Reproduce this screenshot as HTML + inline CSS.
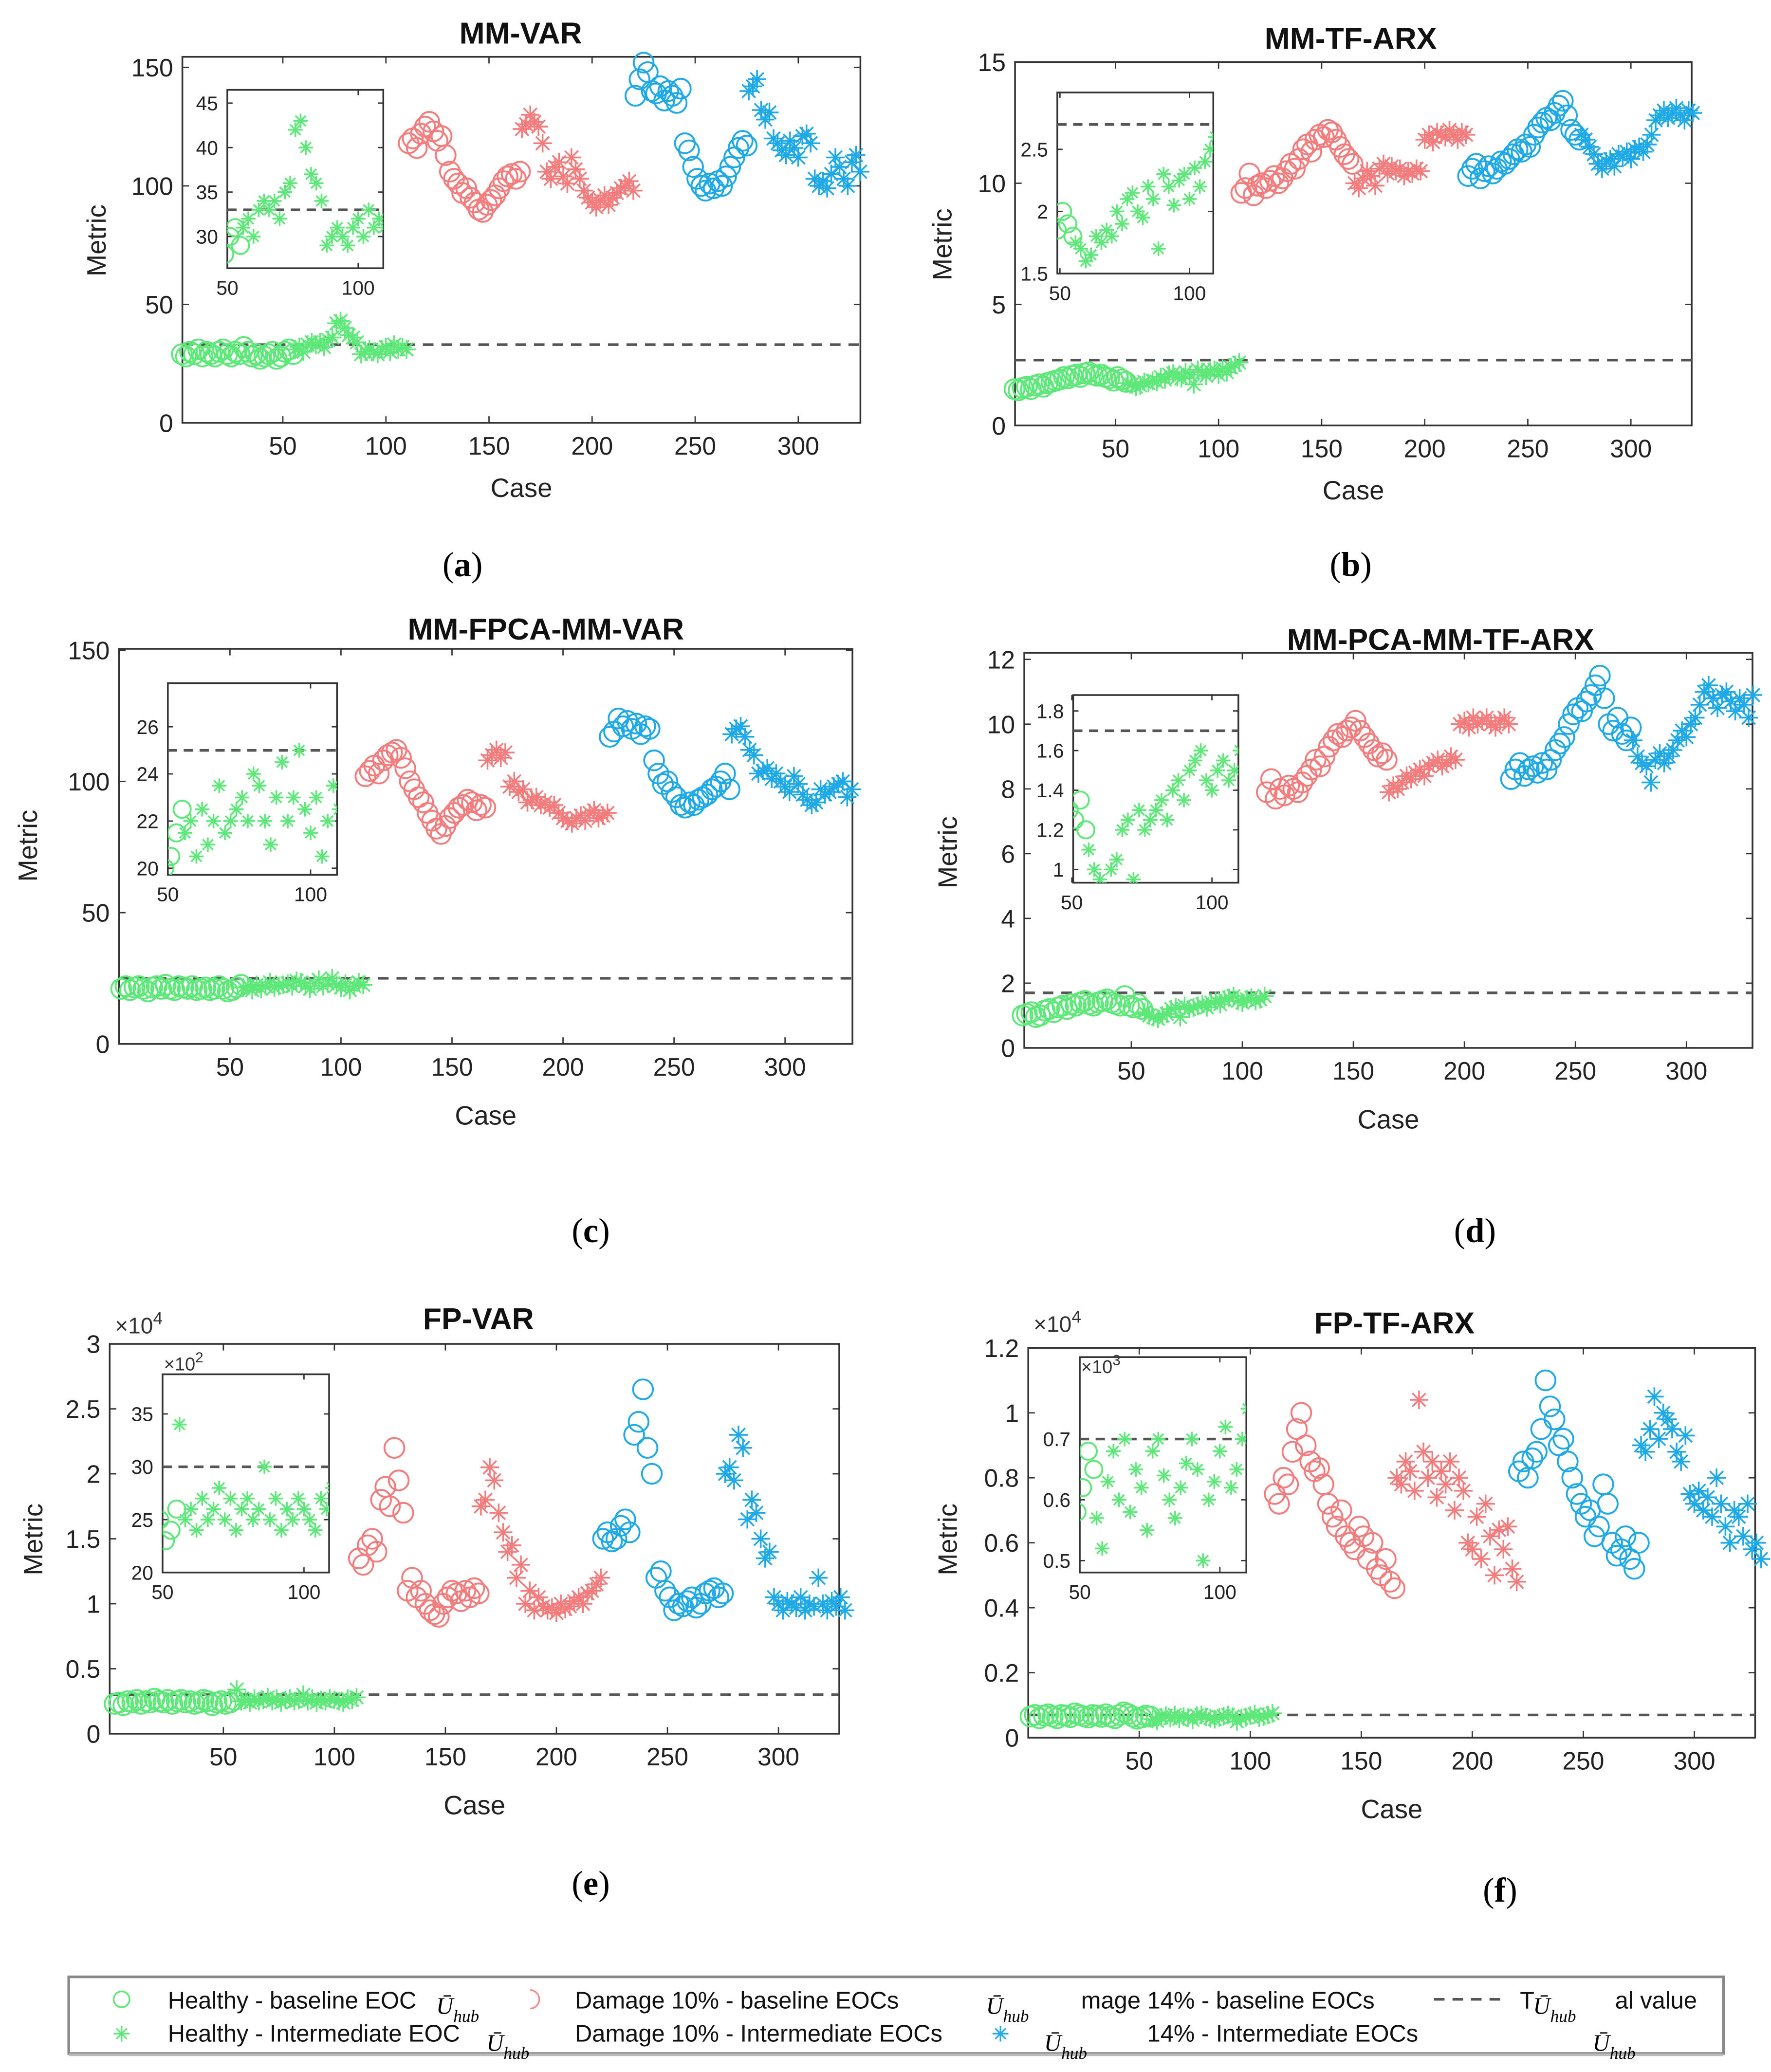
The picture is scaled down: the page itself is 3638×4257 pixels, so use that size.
<!DOCTYPE html>
<html><head><meta charset="utf-8"><style>
html,body{margin:0;padding:0;background:#fff;}
svg{display:block;font-family:"Liberation Sans",Arial,sans-serif;}
</style></head><body>
<svg id="fig" width="3638" height="4257" viewBox="0 0 1340 1568" preserveAspectRatio="none" xmlns="http://www.w3.org/2000/svg">
<rect width="1340" height="1568" fill="#fff"/>
<defs id="defs"></defs>
<g id="root"></g>
<g>
 <rect x="52" y="1496" width="1252" height="58" fill="#fff" stroke="#888" stroke-width="2"/>
 <line x1="52" y1="1555" x2="1304" y2="1555" stroke="#bbb" stroke-width="2"/>
 <circle cx="92" cy="1513" r="6" fill="none" stroke="#5ee87a" stroke-width="1.3"/>
 <text x="127" y="1520" font-size="18" fill="#111">Healthy - baseline  EOC</text>
 <text x="330" y="1524" font-size="18" font-style="italic" font-family="Liberation Serif, serif">Ū<tspan font-size="13" dy="6">hub</tspan></text>
 <g stroke="#5ee87a" stroke-width="1.2"><line x1="86" y1="1539" x2="98" y2="1539"/><line x1="92" y1="1533" x2="92" y2="1545"/><line x1="88" y1="1535" x2="96" y2="1543"/><line x1="96" y1="1535" x2="88" y2="1543"/></g>
 <text x="127" y="1545" font-size="18" fill="#111">Healthy - Intermediate  EOC</text>
 <text x="368" y="1552" font-size="18" font-style="italic" font-family="Liberation Serif, serif">Ū<tspan font-size="13" dy="6">hub</tspan></text>
 <path d="M401 1506 A7 7 0 0 1 401 1520" fill="none" stroke="#f59090" stroke-width="1.3"/>
 <text x="435" y="1520" font-size="18" fill="#111">Damage 10% - baseline  EOCs</text>
 <text x="746" y="1524" font-size="18" font-style="italic" font-family="Liberation Serif, serif">Ū<tspan font-size="13" dy="6">hub</tspan></text>
 <text x="435" y="1545" font-size="18" fill="#111">Damage 10% - Intermediate  EOCs</text>
 <g stroke="#22aaee" stroke-width="1.2"><line x1="751" y1="1539" x2="763" y2="1539"/><line x1="757" y1="1533" x2="757" y2="1545"/><line x1="753" y1="1535" x2="761" y2="1543"/><line x1="761" y1="1535" x2="753" y2="1543"/></g>
 <text x="790" y="1552" font-size="18" font-style="italic" font-family="Liberation Serif, serif">Ū<tspan font-size="13" dy="6">hub</tspan></text>
 <text x="818" y="1520" font-size="18" fill="#111">mage 14% - baseline  EOCs</text>
 <text x="868" y="1545" font-size="18" fill="#111">14% - Intermediate  EOCs</text>
 <line x1="1085" y1="1513" x2="1140" y2="1513" stroke="#555" stroke-width="2" stroke-dasharray="8,6"/>
 <text x="1150" y="1520" font-size="18" fill="#111">T</text>
 <text x="1160" y="1524" font-size="18" font-style="italic" font-family="Liberation Serif, serif">Ū<tspan font-size="13" dy="6">hub</tspan></text>
 <text x="1222" y="1520" font-size="18" fill="#111">al value</text>
 <text x="1205" y="1552" font-size="18" font-style="italic" font-family="Liberation Serif, serif">Ū<tspan font-size="13" dy="6">hub</tspan></text>
</g>
</svg>
<script>
// ---- data ----
const seriesNames = ["healthy-baseline","healthy-intermediate","damage10-baseline","damage10-intermediate","damage14-baseline","damage14-intermediate"];
const caseStart = [1,56,111,166,221,276];
const caseStep = 2;
const xTicks = [50,100,150,200,250,300];
const thresholds = [33, 2.7, 25, 1.7, 0.3, 0.07];

const aHB=[29,28,30,29,31,28,30,29,28,30,31,29,28,30,29,32,30,28,29,27,28,29,30,27,28,30,31,29];
const aHI=[31,32,30,33,34,33,34,32,35,36,42,43,40,37,36,34,29,30,31,30,29,31,32,30,33,31,32,31];
const aD10B=[118,120,116,122,125,127,123,119,121,113,106,103,101,97,99,95,93,90,89,92,94,96,99,102,104,105,103,106];
const aD10I=[124,126,130,127,125,118,106,103,108,110,104,101,112,107,103,98,95,93,91,94,96,92,95,97,99,100,102,98];
const aD14B=[138,145,152,148,140,139,142,136,140,138,135,141,118,115,108,103,100,98,101,99,102,100,104,108,112,116,119,117];
const aD14I=[140,142,145,132,128,131,120,118,115,113,119,116,112,121,122,118,103,100,102,99,105,112,108,103,100,110,113,106];

const bHB=[1.5,1.45,1.55,1.6,1.5,1.65,1.7,1.6,1.75,1.8,1.85,1.9,2.0,1.95,2.05,2.1,2.0,2.15,2.2,2.1,2.05,2.1,2.0,1.95,1.85,2.0,1.9,1.8];
const bHI=[1.75,1.7,1.6,1.65,1.8,1.75,1.85,1.8,2.0,1.9,2.1,2.15,2.0,1.95,2.2,2.1,1.7,2.3,2.2,2.05,2.25,2.3,2.1,2.35,2.2,2.4,2.5,2.6];
const bD10B=[9.6,9.8,10.4,9.5,9.9,10.0,9.8,10.1,10.3,10.0,10.2,10.5,10.8,10.6,11.0,11.4,11.6,11.3,11.8,12.0,11.9,12.2,12.1,11.8,11.5,11.2,11.0,10.8];
const bD10I=[10.0,9.8,10.2,10.5,10.3,9.9,10.6,10.8,10.4,10.7,10.5,10.6,10.3,10.5,10.4,10.6,10.5,11.8,12.0,11.7,12.1,12.0,11.9,12.2,12.0,11.8,12.1,12.0];
const bD14B=[10.3,10.6,10.8,10.2,10.5,10.7,10.4,10.6,10.9,10.8,11.0,11.2,11.4,11.3,11.6,11.5,12.0,12.3,12.5,12.7,12.6,12.9,13.2,13.4,12.8,12.2,12.0,11.8];
const bD14I=[12.0,11.8,11.5,11.2,10.8,10.6,10.9,11.0,10.7,11.2,11.1,11.3,11.0,11.4,11.5,11.3,11.6,12.0,12.6,12.8,13.0,12.7,12.9,13.1,12.8,12.6,13.0,12.9];

const cHB=[21,22,20.5,21.5,22,21,20,21.5,22,21,22.5,21,20.5,22,21.5,21,22,20.5,21,21.5,20.5,21,22,21,20,20.5,21.5,22.5];
const cHI=[21.5,22,20.5,22.5,21,22,23.5,21.5,22,22.5,23,22,24,23.5,22,21,23,24.5,22,23,25,22.5,21.5,23,20.5,22,23.5,22.5];
const cD10B=[102,104,106,103,108,110,111,112,109,105,100,97,94,92,88,85,82,80,83,86,88,90,91,93,92,89,91,90];
const cD10I=[108,110,112,109,111,98,100,96,97,92,93,94,91,92,90,91,88,86,85,84,86,87,85,88,89,86,87,88];
const cD14B=[117,119,124,121,123,120,122,118,121,120,108,103,99,100,96,94,91,90,92,91,93,94,95,97,98,100,103,97];
const cD14I=[118,120,121,117,112,110,103,104,105,101,103,100,98,96,102,99,95,93,91,92,97,95,96,98,99,100,94,97];

const dHB=[1.0,1.05,1.1,0.95,1.0,1.15,1.2,1.1,1.25,1.3,1.2,1.35,1.3,1.4,1.45,1.35,1.3,1.4,1.45,1.5,1.4,1.35,1.3,1.6,1.3,1.25,1.35,1.2];
const dHI=[1.1,1.0,0.95,0.9,1.0,1.05,1.2,1.25,0.95,1.3,1.2,1.25,1.3,1.35,1.25,1.4,1.45,1.35,1.5,1.55,1.6,1.45,1.4,1.5,1.55,1.45,1.5,1.6];
const dD10B=[7.9,8.3,7.7,8.0,7.8,8.1,8.0,7.9,8.2,8.4,8.6,8.9,8.7,9.0,9.3,9.5,9.7,9.6,9.8,9.9,10.1,9.8,9.6,9.4,9.2,9.0,9.1,8.9];
const dD10I=[7.9,8.1,8.0,8.2,8.4,8.3,8.5,8.6,8.4,8.7,8.8,8.9,8.7,8.8,9.0,8.9,10.0,10.1,9.9,10.2,10.0,10.1,10.2,10.0,9.9,10.1,10.2,10.0];
const dD14B=[8.3,8.6,8.8,8.4,8.6,8.7,8.5,8.8,8.6,8.9,9.2,9.4,9.6,10.0,10.3,10.5,10.4,10.7,10.9,11.2,11.5,10.8,10.0,9.8,10.2,9.7,9.5,9.9];
const dD14I=[9.5,9.0,8.8,8.7,8.2,8.9,9.1,8.8,9.0,9.2,9.5,9.8,9.6,10.0,10.2,10.6,11.0,11.2,10.8,10.5,10.9,11.0,10.7,10.4,10.8,10.6,10.2,10.9];

const eHB=[0.23,0.24,0.22,0.25,0.24,0.26,0.23,0.25,0.24,0.27,0.25,0.24,0.26,0.23,0.25,0.26,0.24,0.25,0.23,0.24,0.26,0.25,0.22,0.24,0.25,0.23,0.24,0.26];
const eHI=[0.34,0.25,0.26,0.24,0.27,0.25,0.26,0.28,0.25,0.27,0.24,0.26,0.27,0.25,0.26,0.30,0.25,0.27,0.24,0.26,0.25,0.27,0.26,0.25,0.24,0.27,0.26,0.28];
const eD10B=[1.35,1.3,1.45,1.5,1.4,1.8,1.9,1.75,2.2,1.95,1.7,1.1,1.2,1.05,1.1,1.0,0.95,0.92,0.9,1.0,1.05,1.1,1.08,1.02,1.1,1.05,1.12,1.08];
const eD10I=[1.75,1.8,2.05,1.95,1.7,1.55,1.4,1.45,1.2,1.3,1.0,1.1,0.95,1.05,0.98,0.95,0.97,0.93,1.0,0.96,0.98,1.02,1.05,1.0,1.08,1.1,1.15,1.2];
const eD14B=[1.5,1.55,1.48,1.5,1.6,1.65,1.55,2.3,2.4,2.65,2.2,2.0,1.2,1.25,1.1,1.05,0.95,1.0,0.98,1.02,1.05,0.97,1.0,1.08,1.1,1.12,1.05,1.08];
const eD14I=[2.0,2.05,1.95,2.3,2.2,1.65,1.8,1.7,1.5,1.35,1.4,1.05,1.0,0.95,1.02,1.0,0.97,1.05,0.95,1.0,0.98,1.2,1.0,0.95,1.02,0.98,1.05,0.95];

const fHB=[0.065,0.07,0.06,0.068,0.072,0.065,0.06,0.07,0.068,0.063,0.075,0.07,0.066,0.062,0.07,0.068,0.064,0.072,0.065,0.06,0.07,0.078,0.073,0.065,0.058,0.062,0.068,0.065];
const fHI=[0.057,0.052,0.063,0.068,0.06,0.07,0.058,0.065,0.062,0.055,0.068,0.07,0.064,0.06,0.057,0.062,0.066,0.07,0.065,0.05,0.06,0.063,0.068,0.072,0.062,0.065,0.07,0.075];
const fD10B=[0.75,0.72,0.8,0.78,0.88,0.95,1.0,0.9,0.85,0.82,0.83,0.78,0.72,0.68,0.65,0.7,0.62,0.6,0.58,0.65,0.62,0.55,0.6,0.52,0.5,0.55,0.48,0.46];
const fD10I=[0.8,0.78,0.85,0.82,0.76,1.04,0.88,0.8,0.85,0.74,0.82,0.78,0.85,0.7,0.8,0.76,0.6,0.58,0.68,0.55,0.72,0.62,0.5,0.64,0.58,0.65,0.52,0.48];
const fD14B=[0.82,0.85,0.8,0.86,0.88,0.95,1.1,1.02,0.98,0.9,0.92,0.85,0.8,0.75,0.72,0.68,0.7,0.62,0.65,0.78,0.72,0.6,0.56,0.58,0.62,0.55,0.52,0.6];
const fD14I=[0.9,0.88,0.95,1.05,0.92,1.0,0.98,0.95,0.88,0.85,0.93,0.75,0.72,0.76,0.7,0.74,0.68,0.8,0.72,0.65,0.6,0.7,0.68,0.62,0.72,0.58,0.6,0.55];

const panelSeries=[[aHB,aHI,aD10B,aD10I,aD14B,aD14I],[bHB,bHI,bD10B,bD10I,bD14B,bD14I],[cHB,cHI,cD10B,cD10I,cD14B,cD14I],[dHB,dHI,dD10B,dD10I,dD14B,dD14I],[eHB,eHI,eD10B,eD10I,eD14B,eD14I],[fHB,fHI,fD10B,fD10I,fD14B,fD14I]];
const titles=["MM-VAR","MM-TF-ARX","MM-FPCA-MM-VAR","MM-PCA-MM-TF-ARX","FP-VAR","FP-TF-ARX"];
const yTicksMain=[[0,50,100,150],[0,5,10,15],[0,50,100,150],[0,2,4,6,8,10,12],[0,0.5,1,1.5,2,2.5,3],[0,0.2,0.4,0.6,0.8,1,1.2]];
const yTicksInset=[[30,35,40,45],[1.5,2,2.5],[20,22,24,26],[1,1.2,1.4,1.6,1.8],[0.2,0.25,0.3,0.35],[0.05,0.06,0.07]];
const yTickInsetLabels=[["30","35","40","45"],["1.5","2","2.5"],["20","22","24","26"],["1","1.2","1.4","1.6","1.8"],["20","25","30","35"],["0.5","0.6","0.7"]];
const panelLetters=["a","b","c","d","e","f"];

// ---- layout (pixel geometry, not data) ----
const layout=[
 {L:138,R:651,T:43,B:320,x50:214,x100:292,yv:[0,150],yp:[320,51],tx:394,ty:33,mx:80,my:182,cy:376,lx:350,ly:436,
  in:{L:172,R:290,T:68,B:203,x50:172,x100:271,yv:[30,45],yp:[179,78]}},
 {L:768,R:1280,T:47,B:322,x50:844,x100:922,yv:[0,15],yp:[322,47],tx:1022,ty:37,mx:720,my:185,cy:378,lx:1022,ly:436,
  in:{L:800,R:918,T:70,B:207,x50:802,x100:900,yv:[1.5,2.5],yp:[207,113]}},
 {L:90,R:645,T:491,B:790,x50:174,x100:258,yv:[0,150],yp:[790,492],tx:413,ty:484,mx:28,my:640,cy:851,lx:447,ly:940,
  in:{L:127,R:255,T:517,B:662,x50:127,x100:235,yv:[20,26],yp:[657,550]}},
 {L:775,R:1326,T:494,B:793,x50:856,x100:940,yv:[0,12],yp:[793,499],tx:1090,ty:492,mx:724,my:645,cy:854,lx:1116,ly:940,
  in:{L:812,R:937,T:526,B:668,x50:811,x100:917,yv:[1,1.8],yp:[658,538]}},
 {L:83,R:635,T:1017,B:1312,x50:169,x100:253,yv:[0,3],yp:[1312,1017],tx:362,ty:1006,mx:32,my:1165,cy:1373,lx:447,ly:1434,exp:"4",ex:87,ey:1009,
  in:{L:123,R:249,T:1040,B:1190,x50:123,x100:230,yv:[0.2,0.35],yp:[1190,1070],exp:"2",ex:124,ey:1037}},
 {L:778,R:1328,T:1020,B:1315,x50:862,x100:946,yv:[0,1.2],yp:[1315,1020],tx:1055,ty:1009,mx:724,my:1165,cy:1376,lx:1135,ly:1439,exp:"4",ex:782,ey:1008,
  in:{L:817,R:943,T:1027,B:1190,x50:817,x100:923,yv:[0.05,0.07],yp:[1181,1089],exp:"3",ex:818,ey:1039}}
];
const colors=["#5ee87a","#5ee87a","#f47c7c","#f47c7c","#1fa9e6","#1fa9e6"];

const NS="http://www.w3.org/2000/svg";
const root=document.getElementById('root');
const defs=document.getElementById('defs');
function mk(tag,attrs,parent){const e=document.createElementNS(NS,tag);for(const k in attrs)e.setAttribute(k,attrs[k]);(parent||root).appendChild(e);return e;}
function lin(v0,v1,p0,p1){return v=>p0+(v-v0)*(p1-p0)/(v1-v0);}

function drawMarker(g,isStar,x,y,col,r){
  if(!isStar){
    const c=mk('circle',{cx:x.toFixed(1),cy:y.toFixed(1),r:r,fill:'none',stroke:col,'stroke-width':1.4},g);
    
    
  } else {
    const s=r, d=r*0.72;
    const p=mk('path',{d:`M${x-s} ${y}H${x+s}M${x} ${y-s}V${y+s}M${x-d} ${y-d}L${x+d} ${y+d}M${x+d} ${y-d}L${x-d} ${y+d}`,stroke:col,'stroke-width':1.3,fill:'none'},g);
    
    
  }
}

function drawAxes(pi,box,xs,ys,yt,ytl,xt,fs,g,tick){
  const ax=mk('rect',{x:box.L,y:box.T,width:box.R-box.L,height:box.B-box.T,fill:'#fff',stroke:'#333','stroke-width':1.3},g);
  
  
  yt.forEach((v,i)=>{const y=ys(v);
    mk('line',{x1:box.L,y1:y,x2:box.L+tick,y2:y,stroke:'#333','stroke-width':1},g);
    mk('line',{x1:box.R,y1:y,x2:box.R-tick,y2:y,stroke:'#333','stroke-width':1},g);
    const t=mk('text',{x:box.L-7,y:y+fs*0.36,'font-size':fs,'text-anchor':'end',fill:'#222'},g);
    t.textContent=ytl[i];
    
    
  });
  xt.forEach(v=>{const x=xs(v); if(x<box.L-1||x>box.R+1)return;
    mk('line',{x1:x,y1:box.B,x2:x,y2:box.B-tick,stroke:'#333','stroke-width':1},g);
    mk('line',{x1:x,y1:box.T,x2:x,y2:box.T+tick,stroke:'#333','stroke-width':1},g);
    const t=mk('text',{x:x,y:box.B+fs+5,'font-size':fs,'text-anchor':'middle',fill:'#222'},g);
    t.textContent=String(v);
    
    
  });
}

layout.forEach((P,pi)=>{
  const g=mk('g',{});
  
  
  const xs=lin(50,100,P.x50,P.x100), ys=lin(P.yv[0],P.yv[1],P.yp[0],P.yp[1]);
  drawAxes(pi,P,xs,ys,yTicksMain[pi],yTicksMain[pi].map(String),xTicks,19,g,5);
  const th=mk('line',{x1:P.L,x2:P.R,y1:ys(thresholds[pi]),y2:ys(thresholds[pi]),stroke:'#555','stroke-width':2,'stroke-dasharray':'8,6'},g);
  
  
  panelSeries[pi].forEach((arr,si)=>{
    const sg=mk('g',{},g);
    
    
    arr.forEach((v,i)=>drawMarker(sg,si%2===1,xs(caseStart[si]+caseStep*i),ys(v),colors[si],si%2?7:7.5));
  });
  const tt=mk('text',{x:P.tx,y:P.ty,'font-size':23,'font-weight':'bold','text-anchor':'middle',fill:'#111'},g);
  tt.textContent=titles[pi];
  
  
  const my=mk('text',{x:P.mx,y:P.my,'font-size':20,'text-anchor':'middle',fill:'#222',transform:`rotate(-90 ${P.mx} ${P.my})`},g);
  my.textContent='Metric';
  
  
  const cx=mk('text',{x:(P.L+P.R)/2,y:P.cy,'font-size':20,'text-anchor':'middle',fill:'#222'},g);
  cx.textContent='Case';
  
  
  const lb=mk('text',{x:P.lx,y:P.ly,'font-size':26,'text-anchor':'middle',fill:'#000','font-family':'Liberation Serif, serif'},g);
  lb.innerHTML='(<tspan font-weight="bold">'+panelLetters[pi]+'</tspan>)';
  
  
  if(P.exp){const ex=mk('text',{x:P.ex,y:P.ey,'font-size':17,fill:'#333'},g);
    ex.innerHTML='×10<tspan dy="-7" font-size="13">'+P.exp+'</tspan>';
    
    }
  const I=P.in;
  const ig=mk('g',{},g);
  
  
  const ixs=lin(50,100,I.x50,I.x100), iys=lin(I.yv[0],I.yv[1],I.yp[0],I.yp[1]);
  drawAxes(pi,I,ixs,iys,yTicksInset[pi],yTickInsetLabels[pi],[50,100],15,ig,4);
  const cid='clip'+pi;
  const cp=mk('clipPath',{id:cid},defs);
  mk('rect',{x:I.L,y:I.T,width:I.R-I.L,height:I.B-I.T},cp);
  const cg=mk('g',{'clip-path':`url(#${cid})`},ig);
  mk('line',{x1:I.L,x2:I.R,y1:iys(thresholds[pi]),y2:iys(thresholds[pi]),stroke:'#555','stroke-width':2,'stroke-dasharray':'7,5'},cg);
  [0,1].forEach(si=>{panelSeries[pi][si].forEach((v,i)=>{const c=caseStart[si]+caseStep*i; if(c<49)return;
    drawMarker(cg,si===1,ixs(c),iys(v),colors[si],si?5.5:6.5);});});
  if(I.exp){const ex=mk('text',{x:I.ex,y:I.ey,'font-size':14,fill:'#333'},ig);
    ex.innerHTML='×10<tspan dy="-6" font-size="11">'+I.exp+'</tspan>';
    
    }
});
</script>
</body></html>
